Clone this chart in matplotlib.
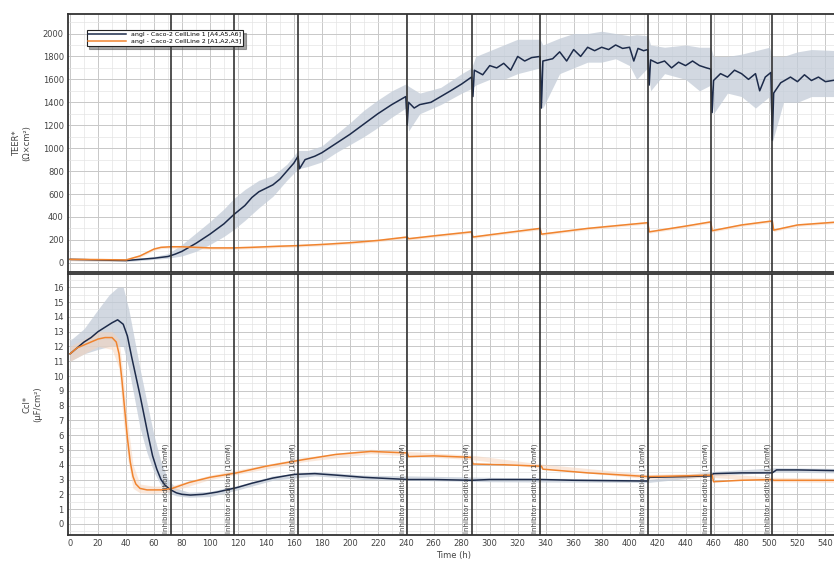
import numpy as np
import matplotlib.pyplot as plt
from matplotlib.ticker import MultipleLocator

# --- data ---
# TEER, cell line 1 (blue)
teer1_t = [0, 10, 20, 30, 40, 50, 60, 70, 75, 80, 90, 100, 110, 117, 125, 130, 135, 140, 145, 150,
           155, 160, 163, 164, 168, 175, 180, 190, 200, 210, 220, 230, 240, 241, 242, 246, 250, 258,
           265, 272, 280, 287, 288, 289, 295, 300, 305, 310, 315, 320, 325, 330, 336, 337, 338, 345,
           350, 355, 360, 365, 370, 375, 380, 385, 390, 395, 400, 403, 406, 410, 413, 414, 415, 420,
           425, 430, 435, 440, 445, 450, 455, 458, 459, 460, 465, 470, 475, 480, 485, 490, 493, 497,
           501, 502, 503, 508, 515, 520, 525, 530, 535, 540, 550]
teer1_v = [30, 28, 25, 22, 20, 30, 40, 55, 75, 100, 170, 250, 340, 420, 500, 570, 620, 650, 680, 730,
           800, 870, 930, 820, 900, 930, 960, 1040, 1120, 1210, 1300, 1380, 1450, 1200, 1400, 1350, 1380, 1400,
           1450, 1500, 1560, 1620, 1450, 1680, 1640, 1720, 1700, 1740, 1680, 1800, 1760, 1790, 1800, 1350, 1760, 1780,
           1840, 1760, 1860, 1800, 1880, 1850, 1880, 1860, 1900, 1870, 1880, 1760, 1870, 1850, 1860, 1550, 1770, 1740,
           1760, 1700, 1750, 1720, 1760, 1720, 1700, 1690, 1310, 1590, 1650, 1620, 1680, 1650, 1600, 1650, 1500, 1620,
           1660, 1070, 1480, 1570, 1620, 1580, 1640, 1590, 1620, 1580, 1600]
teer1_band_t = [0, 40, 60, 70, 80, 90, 100, 110, 117, 125, 135, 145, 155, 163, 170, 180, 190, 200, 210,
                220, 230, 240, 242, 250, 265, 280, 287, 290, 300, 310, 320, 336, 338, 350, 360, 370, 380,
                390, 400, 405, 413, 415, 425, 440, 450, 458, 460, 470, 480, 490, 500, 502, 510, 520, 530, 550]
teer1_lo = [20, 10, 30, 40, 60, 100, 160, 230, 290, 370, 480, 580, 720, 820, 840, 880, 960, 1030, 1100,
            1180, 1270, 1350, 1150, 1300, 1380, 1480, 1520, 1550, 1600, 1600, 1650, 1700, 1350, 1650, 1700, 1750, 1750,
            1780, 1720, 1600, 1700, 1500, 1650, 1600, 1500, 1550, 1300, 1480, 1450, 1350, 1450, 1050, 1400, 1400, 1450, 1450]
teer1_hi = [40, 30, 55, 80, 160, 260, 360, 470, 560, 640, 720, 760, 860, 980, 980, 1020, 1120, 1220, 1330,
            1420, 1500, 1560, 1540, 1480, 1530, 1650, 1700, 1800, 1850, 1900, 1950, 1950, 1900, 1960, 2000, 2000, 2020,
            2000, 1980, 1990, 1980, 1900, 1880, 1900, 1880, 1880, 1800, 1800, 1820, 1850, 1880, 1800, 1800, 1840, 1860, 1850]

# TEER, cell line 2 (orange)
teer2_t = [0, 20, 40, 50, 55, 60, 65, 72, 80, 90, 100, 117, 130, 150, 163, 180, 200, 220, 241, 242,
           260, 287, 288, 310, 336, 337, 370, 400, 413, 414, 440, 458, 459, 480, 502, 503, 520, 550]
teer2_v = [30, 28, 25, 60, 90, 120, 135, 140, 140, 135, 130, 130, 135, 145, 150, 160, 175, 195, 225, 210,
           235, 270, 225, 260, 300, 250, 300, 335, 350, 270, 320, 357, 280, 330, 365, 285, 330, 357]

# Ccl, cell line 1 (blue)
ccl1_t = [0, 5, 10, 15, 20, 25, 30, 34, 38, 41, 44, 47, 50, 53, 56, 59, 62, 65, 68, 72, 76, 80, 86, 95,
          105, 119, 130, 145, 160, 175, 190, 210, 242, 260, 287, 300, 337, 360, 413, 414, 440, 458, 460,
          480, 502, 505, 520, 550]
ccl1_v = [11.5, 11.9, 12.3, 12.6, 13.0, 13.3, 13.6, 13.8, 13.5, 12.7, 11.3, 10.0, 8.7, 7.3, 5.9, 4.6, 3.7,
          3.0, 2.6, 2.3, 2.1, 2.0, 1.95, 2.0, 2.15, 2.45, 2.75, 3.1, 3.35, 3.4, 3.3, 3.15, 3.0, 3.0, 2.95, 3.0,
          3.0, 2.95, 2.9, 3.15, 3.2, 3.25, 3.4, 3.45, 3.45, 3.65, 3.65, 3.6]
ccl1_band_t = [0, 10, 20, 28, 34, 38, 42, 46, 50, 55, 60, 65, 70, 76, 85, 100, 120, 145, 175, 210, 300,
               413, 460, 505, 550]
ccl1_lo = [11.0, 11.5, 11.8, 12.0, 12.0, 12.0, 10.5, 8.5, 6.5, 4.8, 3.5, 2.6, 2.1, 1.9, 1.8, 1.85, 2.3,
           2.95, 3.25, 3.0, 2.85, 2.8, 3.25, 3.5, 3.45]
ccl1_hi = [12.4, 13.2, 14.5, 15.5, 16.0, 16.0, 14.5, 12.5, 10.5, 8.2, 6.0, 4.2, 3.0, 2.4, 2.15, 2.2, 2.6,
           3.25, 3.55, 3.3, 3.15, 3.0, 3.55, 3.8, 3.75]

# Ccl, cell line 2 (orange)
ccl2_t = [0, 5, 10, 15, 20, 25, 30, 33, 35, 37, 39, 41, 43, 45, 47, 50, 55, 60, 66, 73, 85, 100, 119,
          140, 167, 190, 215, 241, 242, 260, 287, 288, 310, 337, 338, 370, 413, 440, 459, 460, 480, 502,
          503, 550]
ccl2_v = [11.5, 11.9, 12.1, 12.3, 12.5, 12.6, 12.6, 12.3, 11.5, 9.8, 7.8, 5.8, 4.2, 3.2, 2.7, 2.4, 2.3,
          2.3, 2.3, 2.4, 2.8, 3.15, 3.45, 3.9, 4.35, 4.7, 4.9, 4.8, 4.55, 4.6, 4.5, 4.05, 4.0, 3.9, 3.7, 3.45,
          3.2, 3.25, 3.3, 2.85, 2.95, 3.0, 2.95, 2.95]
ccl2_band_t = [0, 20, 30, 35, 38, 41, 45, 50, 60, 73, 100, 167, 215, 287, 337, 413, 459, 502, 550]
ccl2_lo = [11.0, 12.0, 11.8, 10.5, 7.0, 4.5, 2.4, 2.1, 2.05, 2.2, 3.0, 4.2, 4.75, 4.35, 3.75, 3.05, 3.15, 2.85, 2.8]
ccl2_hi = [12.0, 13.0, 13.0, 12.5, 10.0, 7.0, 4.0, 2.7, 2.55, 2.6, 3.3, 4.5, 5.05, 4.65, 4.05, 3.35, 3.45, 3.15, 3.1]

# event markers (s)
events = [72, 117, 163, 241, 287, 336, 413, 458, 502]
event_labels = ["Inhibitor addition (10mM)"] * len(events)

legend_labels = ["angl - Caco-2 CellLine 1 [A4,A5,A6]", "angl - Caco-2 CellLine 2 [A1,A2,A3]"]

BLUE = "#1d2b4a"
BLUE_BAND = "#c3ccd8"
ORANGE = "#f0842f"
ORANGE_BAND = "#f8d3b8"

fig = plt.figure(figsize=(8.34, 5.65), dpi=100)
# the original is cropped on the right, so the axes run past the edge
ax1 = fig.add_axes([0.0815, 0.5186, 0.925, 0.4566])
ax2 = fig.add_axes([0.0815, 0.0531, 0.925, 0.4620])

for ax in (ax1, ax2):
    ax.set_xlim(-1.5, 550)
    ax.xaxis.set_major_locator(MultipleLocator(20))
    ax.xaxis.set_minor_locator(MultipleLocator(10))
    ax.grid(which="major", color="#c8c8c8", lw=0.7)
    ax.grid(which="minor", color="#e4e4e4", lw=0.5)
    ax.set_axisbelow(True)
    ax.tick_params(which="both", length=0, labelsize=6, colors="#444444", pad=3)
    for s in ax.spines.values():
        s.set_linewidth(1.3)
        s.set_color("#333333")

# top panel: TEER
ax1.fill_between(teer1_band_t, teer1_lo, teer1_hi, color=BLUE_BAND, alpha=0.75, lw=0)
ax1.fill_between(teer2_t, np.array(teer2_v) - 12, np.array(teer2_v) + 12, color=ORANGE_BAND, alpha=0.5, lw=0)
l1, = ax1.plot(teer1_t, teer1_v, color=BLUE, lw=1.1)
l2, = ax1.plot(teer2_t, teer2_v, color=ORANGE, lw=1.1)
ax1.set_ylim(-80, 2170)
ax1.yaxis.set_major_locator(MultipleLocator(200))
ax1.yaxis.set_minor_locator(MultipleLocator(100))
ax1.tick_params(axis="x", labelbottom=False)
ax1.set_ylabel("TEER*\n(Ω×cm²)", fontsize=6, color="#444444", labelpad=8)

leg = ax1.legend([l1, l2], legend_labels, loc="upper left", bbox_to_anchor=(0.02, 0.95),
                 fontsize=4.5, frameon=True, fancybox=False, shadow=True,
                 handlelength=6, borderpad=0.3, labelspacing=0.2)
leg.get_frame().set_edgecolor("#222222")
leg.get_frame().set_linewidth(0.8)

# bottom panel: Ccl
ax2.fill_between(ccl1_band_t, ccl1_lo, ccl1_hi, color=BLUE_BAND, alpha=0.75, lw=0)
ax2.fill_between(ccl2_band_t, ccl2_lo, ccl2_hi, color=ORANGE_BAND, alpha=0.5, lw=0)
ax2.plot(ccl1_t, ccl1_v, color=BLUE, lw=1.1)
ax2.plot(ccl2_t, ccl2_v, color=ORANGE, lw=1.1)
ax2.set_ylim(-0.75, 16.9)
ax2.yaxis.set_major_locator(MultipleLocator(1))
ax2.yaxis.set_minor_locator(MultipleLocator(0.5))
ax2.set_ylabel("Ccl*\n(µF/cm²)", fontsize=6, color="#444444", labelpad=8)
ax2.set_xlabel("Time (h)", fontsize=6, color="#444444", labelpad=2)

# event lines
for t, lab in zip(events, event_labels):
    for ax in (ax1, ax2):
        ax.axvline(t, color="#333333", lw=1.2, zorder=3)
    ax2.text(t - 1.2, -0.6, lab, rotation=90, fontsize=5, color="#444444",
             ha="right", va="bottom", zorder=4)

fig.savefig("out.png", dpi=100)
